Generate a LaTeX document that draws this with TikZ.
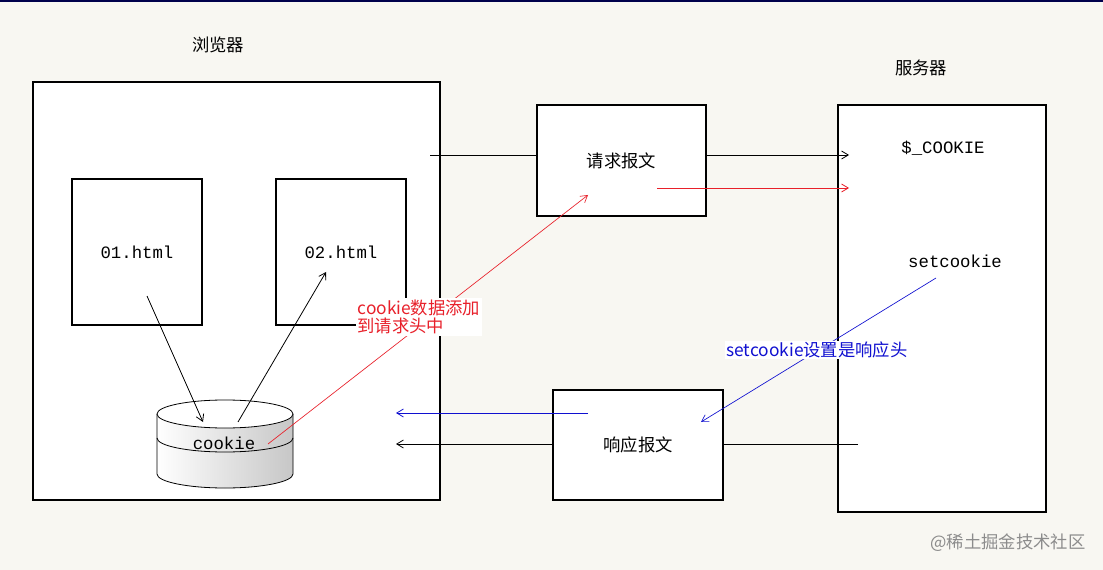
\documentclass[tikz,border=0pt]{standalone}
\usepackage{fontspec}
\setmainfont{Liberation Serif}
\setmonofont{Liberation Mono}
\newfontfamily\cjk{Noto Sans CJK SC}
\usetikzlibrary{shapes.geometric,arrows.meta}
\definecolor{bg}{HTML}{F8F7F2}
\definecolor{cred}{HTML}{E8202A}
\definecolor{cblue}{HTML}{1010D0}
\tikzset{x=0.75pt,y=-0.75pt,
 box/.style={draw,fill=white,line width=0.8pt},
 arr/.style={-{Straight Barb[length=5pt,width=6pt]},line width=0.6pt},
 lbl/.style={font=\ttfamily\fontsize{13}{15}\selectfont},
 clbl/.style={font=\cjk\fontsize{13}{15}\selectfont}}
\begin{document}
\begin{tikzpicture}
\fill[bg] (0,0) rectangle (1103,570);
\useasboundingbox (0,0) rectangle (1103,570);
\fill[black!70!blue] (0,0) rectangle (1103,2);
\node[clbl] (tb) at (218,45) {浏览器};
\node[clbl] (ts) at (921,68) {服务器};
\draw[box] (33,82) rectangle (440,500);
\node[box,minimum width=97.5pt,minimum height=109.5pt] (h1) at (137,252) {};
\node[lbl] at (h1) {01.html};
\node[box,minimum width=97.5pt,minimum height=109.5pt] (h2) at (341,252) {};
\node[lbl] at (h2) {02.html};
% cylinder
\shade[left color=white,right color=black!22] (157,414) -- (157,474) arc[start angle=180,end angle=0,x radius=68,y radius=14] -- (293,414) arc[start angle=0,end angle=180,x radius=68,y radius=14];
\draw[line width=0.6pt] (157,414) -- (157,474) arc[start angle=180,end angle=0,x radius=68,y radius=14] -- (293,414);
\draw[line width=0.6pt,fill=white] (225,414) ellipse[x radius=68,y radius=14];
\draw[line width=0.6pt] (157,438) arc[start angle=180,end angle=0,x radius=68,y radius=14];
\node[lbl] (ck) at (224,443) {cookie};
\coordinate (c1) at (147,296); \coordinate (c2) at (203,422);
\draw[arr] (c1) -- (c2);
\coordinate (c3) at (238,422); \coordinate (c4) at (326,272);
\draw[arr] (c3) -- (c4);
% request
\node[box,minimum width=126.75pt,minimum height=83.25pt] (rq) at (621.5,160.5) {};
\node[clbl] at (rq) {请求报文};
\draw[box] (838,105) rectangle (1046,512);
\node[lbl] (sc) at (943,148) {\$\_COOKIE};
\node[lbl] (sk) at (955,261) {setcookie};
\coordinate (a0) at (430,155); \coordinate (a1) at (849,155);
\draw[line width=0.6pt] (a0) -- (a0 -| rq.west);
\draw[arr] (a1 -| rq.east) -- (a1);
\coordinate (r0) at (657,188); \coordinate (r1) at (849,188);
\draw[arr,cred] (r0) -- (r1);
\coordinate (r2) at (268,444); \coordinate (r3) at (588,195);
\draw[arr,cred,line width=0.5pt] (r2) -- (r3);
\node[fill=white,text=cred,align=left,anchor=north west,inner sep=1pt,font=\cjk\fontsize{13}{14}\selectfont] (rl) at (356,298) {cookie数据添加\\到请求头中};
% response
\node[box,minimum width=127.5pt,minimum height=82.5pt] (rs) at (638,445) {};
\node[clbl] at (rs) {响应报文};
\coordinate (b0) at (588,413); \coordinate (b1) at (396,413);
\draw[arr,cblue] (b0) -- (b1);
\coordinate (k0) at (858,444); \coordinate (k1) at (396,444);
\draw[line width=0.6pt] (k0) -- (k0 -| rs.east);
\draw[arr] (k1 -| rs.west) -- (k1);
\coordinate (s0) at (936,278); \coordinate (s1) at (701,422);
\draw[arr,cblue,line width=0.5pt] (s0) -- (s1);
\node[fill=white,text=cblue,inner sep=1pt,font=\cjk\fontsize{13}{15}\selectfont] (bl) at (817,350) {setcookie设置是响应头};
\node[text=black!45,font=\cjk\fontsize{13}{15}\selectfont] (wm) at (1008,543) {@稀土掘金技术社区};
\end{tikzpicture}
\end{document}
